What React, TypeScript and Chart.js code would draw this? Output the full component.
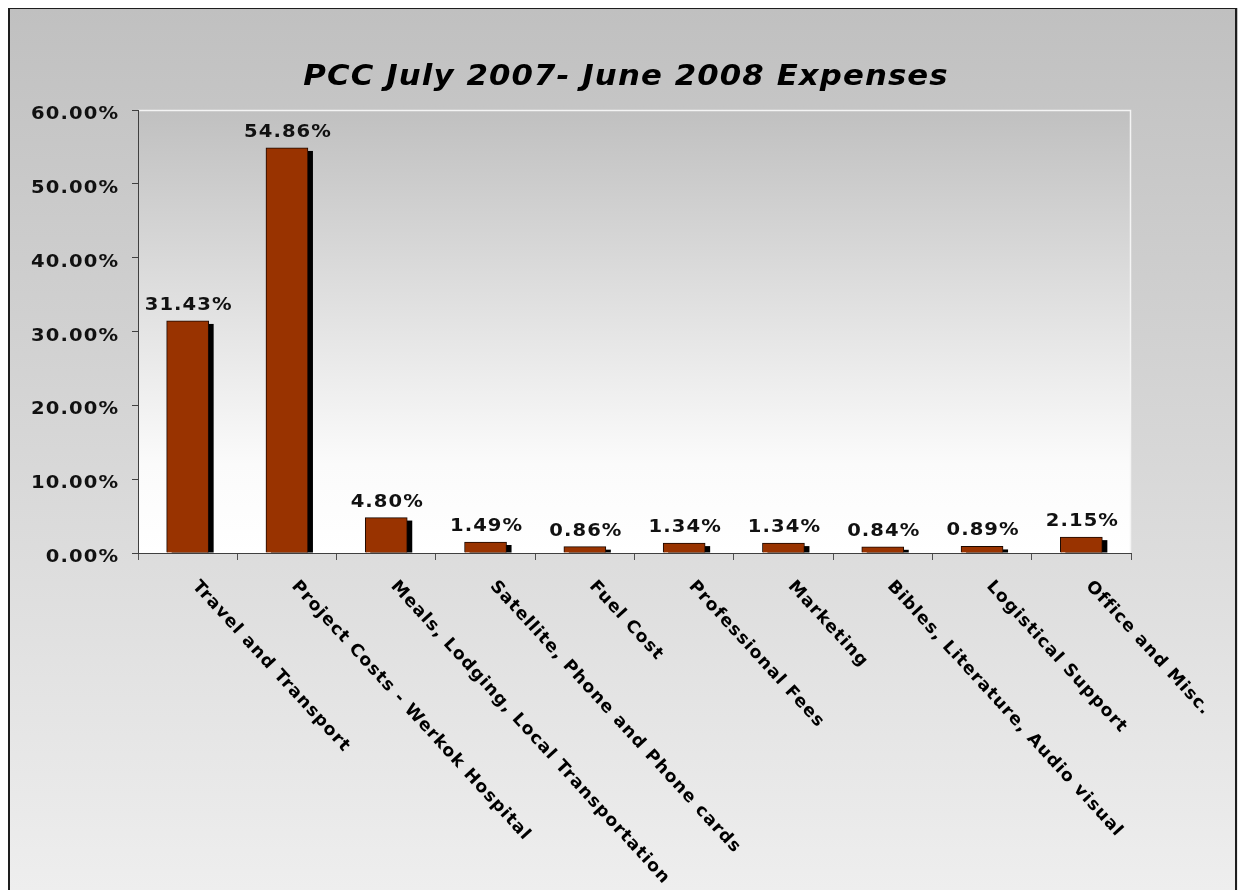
import React, { useEffect, useRef } from 'react';
import { Chart, registerables } from 'chart.js';

Chart.register(...registerables);

const titleText = 'PCC July 2007- June 2008 Expenses';
const categories = [
  'Travel and Transport',
  'Project Costs - Werkok Hospital',
  'Meals, Lodging, Local Transportation',
  'Satellite, Phone and Phone cards',
  'Fuel Cost',
  'Professional Fees',
  'Marketing',
  'Bibles, Literature, Audio visual',
  'Logistical Support',
  'Office and Misc.',
];
const expensePercent = [31.43, 54.86, 4.8, 1.49, 0.86, 1.34, 1.34, 0.84, 0.89, 2.15];
const yMin = 0;
const yMax = 60;
const yStep = 10;

const FONT = '"DejaVu Sans", Verdana, sans-serif';

function drawText(
  ctx: any,
  text: string,
  x: number,
  y: number,
  align: 'left' | 'center' | 'right',
  font: string,
  spacing: number,
  sx: number,
  rot = 0
) {
  ctx.save();
  ctx.font = font;
  ctx.letterSpacing = spacing + 'px';
  ctx.textAlign = align;
  ctx.textBaseline = 'alphabetic';
  ctx.translate(x, y);
  if (rot) ctx.rotate(rot);
  ctx.scale(sx, 1);
  const shift = align === 'center' ? spacing / 2 : align === 'right' ? spacing : 0;
  ctx.fillText(text, shift, 0);
  ctx.restore();
}

const decorPlugin: any = {
  id: 'decor',
  beforeDraw(chart: any) {
    const { ctx, width, height, chartArea: a } = chart;
    ctx.save();
    const g = ctx.createLinearGradient(0, 0, 0, height);
    g.addColorStop(0, '#c0c0c0');
    g.addColorStop(1, '#eeeeee');
    ctx.fillStyle = g;
    ctx.fillRect(0, 0, width, height);

    const pg = ctx.createLinearGradient(0, a.top, 0, a.bottom);
    pg.addColorStop(0, '#c0c0c0');
    pg.addColorStop(0.8, '#fbfbfb');
    pg.addColorStop(1, '#ffffff');
    ctx.fillStyle = pg;
    ctx.fillRect(a.left, a.top, a.right - a.left, a.bottom - a.top);
    ctx.strokeStyle = '#f4f4f4';
    ctx.lineWidth = 1.5;
    ctx.beginPath();
    ctx.moveTo(a.left, a.top + 0.5);
    ctx.lineTo(a.right - 0.5, a.top + 0.5);
    ctx.lineTo(a.right - 0.5, a.bottom);
    ctx.stroke();

    ctx.strokeStyle = '#1e1e1e';
    ctx.lineWidth = 2;
    ctx.strokeRect(1, 0, width - 3, height + 4);

    ctx.fillStyle = '#000000';
    drawText(ctx, titleText, 617.5, 77, 'center', `italic bold 28px ${FONT}`, 1, 1.1);
    ctx.restore();
  },
  beforeDatasetsDraw(chart: any) {
    const { ctx } = chart;
    const meta = chart.getDatasetMeta(0);
    ctx.save();
    ctx.fillStyle = '#000000';
    meta.data.forEach((bar: any) => {
      const p = bar.getProps(['x', 'y', 'base', 'width'], true);
      const top = p.y + 3;
      if (p.base - top > 0) {
        ctx.fillRect(p.x - p.width / 2 + 5, top, p.width, p.base - top);
      }
    });
    ctx.restore();
  },
  afterDatasetsDraw(chart: any) {
    const { ctx } = chart;
    const meta = chart.getDatasetMeta(0);
    ctx.save();
    ctx.fillStyle = '#111111';
    meta.data.forEach((bar: any, i: number) => {
      const p = bar.getProps(['x', 'y'], true);
      drawText(ctx, expensePercent[i].toFixed(2) + '%', p.x + 0.5, p.y - 11, 'center', `bold 18px ${FONT}`, 1, 1.087);
    });
    ctx.restore();
  },
  afterDraw(chart: any) {
    const { ctx } = chart;
    const xs = chart.scales.x;
    const ys = chart.scales.y;
    ctx.save();
    ctx.fillStyle = '#111111';
    ys.ticks.forEach((t: any) => {
      const py = ys.getPixelForValue(t.value);
      drawText(ctx, Number(t.value).toFixed(2) + '%', ys.right - 20, py + 9, 'right', `bold 18px ${FONT}`, 1, 1.087);
    });
    ctx.fillStyle = '#000000';
    const angle = (47.5 * Math.PI) / 180;
    categories.forEach((label, i) => {
      const cx = xs.getPixelForValue(i);
      drawText(ctx, label, cx + 4, xs.top + 33.5, 'left', `bold 17px ${FONT}`, 1, 1.035, angle);
    });
    ctx.restore();
  },
};

export default function App() {
  const ref = useRef<HTMLCanvasElement | null>(null);
  useEffect(() => {
    if (!ref.current) return;
    const chart = new Chart(ref.current, {
      type: 'bar',
      data: {
        labels: categories,
        datasets: [
          {
            data: expensePercent,
            backgroundColor: '#993300',
            borderColor: '#1a0800',
            borderWidth: 1,
            barThickness: 42,
          },
        ],
      },
      options: {
        animation: false,
        responsive: false,
        events: [],
        layout: { padding: { left: 0, right: 107, top: 102, bottom: 0 } },
        plugins: {
          legend: { display: false },
          tooltip: { enabled: false },
          title: { display: false },
        },
        scales: {
          x: {
            afterFit: (s: any) => {
              s.height = 337;
            },
            grid: {
              display: true,
              drawOnChartArea: false,
              drawTicks: true,
              tickLength: 7,
              color: '#505050',
              offset: true,
            },
            border: { color: '#404040', width: 1 },
            ticks: { display: false },
          },
          y: {
            min: yMin,
            max: yMax,
            afterFit: (s: any) => {
              s.width = 130;
            },
            grid: {
              display: true,
              drawOnChartArea: false,
              drawTicks: true,
              tickLength: 6,
              color: '#404040',
            },
            border: { color: '#404040', width: 1 },
            ticks: {
              stepSize: yStep,
              color: 'rgba(0,0,0,0)',
              font: { family: FONT, size: 18, weight: 'bold' },
            },
          },
        },
      },
      plugins: [decorPlugin],
    } as any);
    return () => chart.destroy();
  }, []);
  return (
    <canvas
      ref={ref}
      width={1230}
      height={882}
      style={{ display: 'block', position: 'fixed', left: 8, top: 8, width: 1230, height: 882 }}
    />
  );
}
